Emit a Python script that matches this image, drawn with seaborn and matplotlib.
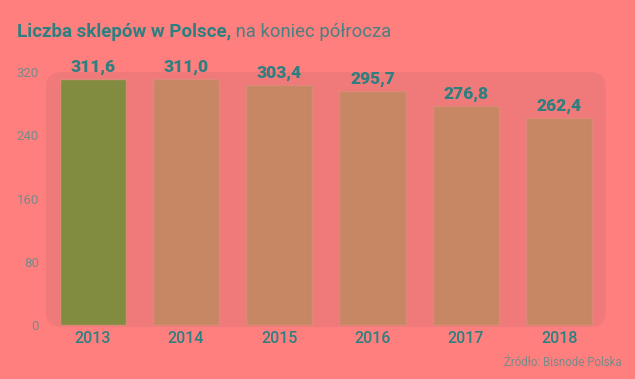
import matplotlib
matplotlib.use("Agg")
import matplotlib.pyplot as plt
from matplotlib.patches import FancyBboxPatch
import seaborn as sns
import pandas as pd

years = ["2013", "2014", "2015", "2016", "2017", "2018"]
values = [311.6, 311.0, 303.4, 295.7, 276.8, 262.4]
labels = ["311,6", "311,0", "303,4", "295,7", "276,8", "262,4"]
yticks = [0, 80, 160, 240, 320]
title_bold = "Liczba sklepów w Polsce,"
title_light = " na koniec półrocza"
source = "Źródło: Bisnode Polska"

BG = "#FF7F7F"
PANEL = "#F07A7A"
GREEN = "#828C40"
ORANGE = "#C88764"
TEAL = "#2E7F7F"
MUTED = "#7A8A86"

sns.set_theme(style="white")
plt.rcParams["font.family"] = ["Roboto", "DejaVu Sans"]

df = pd.DataFrame({"year": years, "value": values})
palette = {y: (GREEN if i == 0 else ORANGE) for i, y in enumerate(years)}

fig = plt.figure(figsize=(6.35, 3.79), dpi=100, facecolor=BG)
ax = fig.add_axes([0.0724, 0.137, 0.8816, 0.673])
ax.set_facecolor("none")

panel = FancyBboxPatch((0, 0), 1, 1, boxstyle="round,pad=0,rounding_size=0.03",
                       transform=ax.transAxes, facecolor=PANEL, edgecolor="none",
                       zorder=0, clip_on=False, mutation_aspect=1.9)
ax.add_patch(panel)

sns.barplot(data=df, x="year", y="value", hue="year", palette=palette,
            legend=False, width=0.71, ax=ax, edgecolor="#E08878", linewidth=1.0,
            saturation=1, zorder=2)

ax.set_ylim(-2.5, 320)
ax.set_xlim(-0.5, 5.5)
ax.set_yticks(yticks)
ax.set_yticklabels([str(t) for t in yticks], color=MUTED, fontsize=9.5)
ax.tick_params(axis="y", length=0, pad=5)
ax.tick_params(axis="x", length=0, pad=3, labelsize=11.5, labelcolor=TEAL)
for t in ax.get_xticklabels():
    t.set_fontweight("medium")
ax.set_xlabel("")
ax.set_ylabel("")
for s in ax.spines.values():
    s.set_visible(False)
ax.grid(False)

for i, (v, lab) in enumerate(zip(values, labels)):
    ax.text(i, v + 5, lab, ha="center", va="bottom", fontsize=12.5,
            fontweight="heavy", color=TEAL, zorder=3)

t1 = fig.text(17 / 635, 1 - 32 / 379, title_bold, fontsize=13.5, fontweight="bold",
              color=TEAL, va="center", ha="left")
fig.canvas.draw()
bb = t1.get_window_extent()
fig.text(bb.x1 / fig.bbox.width, 1 - 32 / 379, title_light, fontsize=13.3,
         fontweight="normal", color="#4A8080", va="center", ha="left")

fig.text(622 / 635, 1 - 362 / 379, source, fontsize=8.3, color=MUTED,
         ha="right", va="center")

fig.savefig("out.png", dpi=100, facecolor=BG)
